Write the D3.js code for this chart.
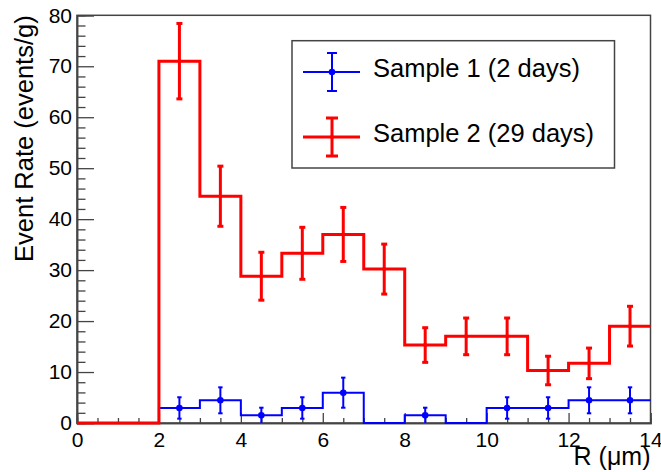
<!DOCTYPE html>
<html>
<head>
<meta charset="utf-8">
<script src="https://cdn.jsdelivr.net/npm/d3@7"></script>
<style>
  body { margin: 0; background: #fff; }
  svg { display: block; font-family: 'Liberation Sans', Arial, sans-serif; }
</style>
</head>
<body>
<div id="chart"></div>
<script>
// bin lower edges (width 1 µm), last edge closes the histogram
const binLow = [0, 1, 2, 3, 4, 5, 6, 7, 8, 9, 10, 11, 12, 13];
const binHigh = 14;

// Sample 1 (2 days)
const sample1 = [0, 0, 2.95, 4.45, 1.5, 2.95, 5.95, 0, 1.5, 0, 2.95, 2.95, 4.45, 4.45];
const sample1Err = [0, 0, 2.1, 2.55, 1.5, 2.1, 2.95, 0, 1.5, 0, 2.1, 2.1, 2.55, 2.55];

// Sample 2 (29 days)
const sample2 = [0, 0, 71.0, 44.5, 28.8, 33.3, 37.0, 30.2, 15.3, 17.0, 17.0, 10.3, 11.7, 19.0];
const sample2Err = [0, 0, 7.4, 5.9, 4.7, 5.1, 5.3, 4.9, 3.4, 3.6, 3.6, 2.8, 3.0, 3.9];

const xMajor = [0, 2, 4, 6, 8, 10, 12, 14];
const yMajor = [0, 10, 20, 30, 40, 50, 60, 70, 80];

const seriesNames = ['Sample 1 (2 days)', 'Sample 2 (29 days)'];

const W = 661, H = 472;
const margin = { top: 15.3, right: 10.5, bottom: 49, left: 77 };
const width = W - margin.left - margin.right;
const height = H - margin.top - margin.bottom;

const svg = d3.select('#chart')
  .append('svg')
  .attr('width', W)
  .attr('height', H);

const g = svg.append('g')
  .attr('transform', `translate(${margin.left},${margin.top})`);

const x = d3.scaleLinear().domain([0, 14]).range([0, width]);
const y = d3.scaleLinear().domain([0, 80]).range([height, 0]);

// frame
g.append('rect')
  .attr('width', width)
  .attr('height', height)
  .attr('fill', 'none')
  .attr('stroke', '#444')
  .attr('stroke-width', 1.5);

// minor ticks
const xMinor = d3.range(0, 14.01, 0.5).filter((v) => !xMajor.includes(v));
const yMinor = d3.range(0, 80.01, 2).filter((v) => !yMajor.includes(v));

const xAxisMinor = g.append('g')
  .attr('transform', `translate(0,${height})`)
  .call(d3.axisBottom(x).tickValues(xMinor).tickSize(-5).tickFormat(''));

const yAxisMinor = g.append('g')
  .call(d3.axisLeft(y).tickValues(yMinor).tickSize(-8.5).tickFormat(''));

const xAxis = g.append('g')
  .attr('transform', `translate(0,${height})`)
  .call(d3.axisBottom(x).tickValues(xMajor).tickSize(-10).tickPadding(9).tickFormat(d3.format('d')));

const yAxis = g.append('g')
  .call(d3.axisLeft(y).tickValues(yMajor).tickSize(-17).tickPadding(5).tickFormat(d3.format('d')));

[xAxisMinor, yAxisMinor, xAxis, yAxis].forEach((a) => {
  a.select('.domain').attr('stroke', '#444').attr('stroke-width', 1.5);
  a.selectAll('line').attr('stroke', '#444').attr('stroke-width', 1.3);
});
[xAxis, yAxis].forEach((a) => {
  a.selectAll('text')
    .attr('fill', '#000')
    .style('font-size', '21px')
    .style('font-family', "'Liberation Sans', Arial, sans-serif");
});

// histogram step lines
function drawHist(values, errors, color, lw, capHalf, markerR) {
  const pts = binLow.map((b, i) => [b, values[i]]);
  pts.push([binHigh, values[values.length - 1]]);

  const step = d3.line()
    .x((d) => x(d[0]))
    .y((d) => y(d[1]))
    .curve(d3.curveStepAfter);

  g.append('path')
    .datum(pts)
    .attr('fill', 'none')
    .attr('stroke', color)
    .attr('stroke-width', lw)
    .attr('d', step);

  const bins = binLow
    .map((b, i) => ({ c: b + 0.5, v: values[i], e: errors[i] }))
    .filter((d) => d.v > 0);

  const eb = g.append('g')
    .selectAll('g')
    .data(bins)
    .enter()
    .append('g')
    .attr('stroke', color)
    .attr('stroke-width', lw);

  eb.append('line')
    .attr('x1', (d) => x(d.c))
    .attr('x2', (d) => x(d.c))
    .attr('y1', (d) => y(Math.max(0, d.v - d.e)))
    .attr('y2', (d) => y(d.v + d.e));

  eb.append('line')
    .attr('x1', (d) => x(d.c) - capHalf)
    .attr('x2', (d) => x(d.c) + capHalf)
    .attr('y1', (d) => y(d.v + d.e))
    .attr('y2', (d) => y(d.v + d.e));

  eb.filter((d) => d.v - d.e > 0.2)
    .append('line')
    .attr('x1', (d) => x(d.c) - capHalf)
    .attr('x2', (d) => x(d.c) + capHalf)
    .attr('y1', (d) => y(d.v - d.e))
    .attr('y2', (d) => y(d.v - d.e));

  eb.append('circle')
    .attr('cx', (d) => x(d.c))
    .attr('cy', (d) => y(d.v))
    .attr('r', markerR)
    .attr('fill', color)
    .attr('stroke', 'none');
}

drawHist(sample1, sample1Err, '#0000ff', 2, 2.2, 3.3);
drawHist(sample2, sample2Err, '#ff0000', 3, 3, 2);

// axis titles
svg.append('text')
  .attr('transform', `translate(33,${margin.top}) rotate(-90)`)
  .attr('text-anchor', 'end')
  .style('font-size', '25.5px')
  .text('Event Rate (events/g)');

svg.append('text')
  .attr('x', margin.left + width)
  .attr('y', 465)
  .attr('text-anchor', 'end')
  .style('font-size', '25px')
  .text('R (\u03bcm)');

// legend
const legend = svg.append('g');

legend.append('rect')
  .attr('x', 292)
  .attr('y', 40.7)
  .attr('width', 322.5)
  .attr('height', 127.3)
  .attr('fill', '#fff')
  .attr('stroke', '#444')
  .attr('stroke-width', 1.5);

const legendItems = [
  { name: seriesNames[0], color: '#0000ff', lw: 2, cap: 5, r: 3.3, ly: 72, half: 19 },
  { name: seriesNames[1], color: '#ff0000', lw: 3, cap: 6, r: 2, ly: 137, half: 19 },
];

legendItems.forEach((d) => {
  const item = legend.append('g').attr('stroke', d.color).attr('stroke-width', d.lw);
  item.append('line').attr('x1', 303).attr('x2', 360).attr('y1', d.ly).attr('y2', d.ly);
  item.append('line').attr('x1', 332).attr('x2', 332).attr('y1', d.ly - d.half).attr('y2', d.ly + d.half);
  item.append('line').attr('x1', 332 - d.cap).attr('x2', 332 + d.cap).attr('y1', d.ly - d.half).attr('y2', d.ly - d.half);
  item.append('line').attr('x1', 332 - d.cap).attr('x2', 332 + d.cap).attr('y1', d.ly + d.half).attr('y2', d.ly + d.half);
  item.append('circle').attr('cx', 332).attr('cy', d.ly).attr('r', d.r).attr('fill', d.color).attr('stroke', 'none');

  legend.append('text')
    .attr('x', 373)
    .attr('y', d.ly + 5)
    .style('font-size', '25.5px')
    .text(d.name);
});
</script>
</body>
</html>
